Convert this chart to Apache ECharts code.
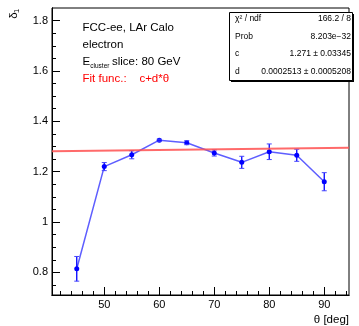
<!DOCTYPE html>
<html><head><meta charset="utf-8">
<script src="https://cdn.jsdelivr.net/npm/echarts@6/dist/echarts.min.js"></script>
<style>html,body{margin:0;padding:0;background:#fff}#c{width:359px;height:326px}</style>
</head><body><div id="c"></div>
<script>
// ---- data ----
const thetaVals = [45, 50, 55, 60, 65, 70, 75, 80, 85, 90];
const deltaVals = [0.814, 1.220, 1.267, 1.325, 1.315, 1.274, 1.237, 1.279, 1.265, 1.160];
const deltaErrs = [0.049, 0.016, 0.016, 0.004, 0.008, 0.012, 0.024, 0.031, 0.024, 0.036];
const xMajorTicks = [50, 60, 70, 80, 90];
const xMinorTicks = [42, 44, 46, 48, 52, 54, 56, 58, 62, 64, 66, 68, 72, 74, 76, 78, 82, 84, 86, 88, 92, 94];
const yMajorTicks = [0.8, 1, 1.2, 1.4, 1.6, 1.8];
const yMinorTicks = [0.75, 0.85, 0.9, 0.95, 1.05, 1.1, 1.15, 1.25, 1.3, 1.35, 1.45, 1.5, 1.55, 1.65, 1.7, 1.75];
const fitX = [40.5, 94.5];
const fitY = [1.281, 1.295];
const statsLabels = ['χ² / ndf', 'Prob', 'c', 'd'];
const statsValues = ['166.2 / 8', '8.203e\u221232', '1.271 ± 0.03345', '0.0002513 ± 0.0005208'];
const infoLines = ['FCC-ee, LAr Calo', 'electron'];
const fitText = 'Fit func.:    c+d*θ';

const X_MIN = 40.5, X_MAX = 94.5, Y_MIN = 0.71, Y_MAX = 1.85;
const FONT = 'Liberation Sans, Arial, sans-serif';

const chart = echarts.init(document.getElementById('c'), null, {renderer: 'canvas'});

const pointData = thetaVals.map((t, i) => [t, deltaVals[i]]);
const errData = thetaVals.map((t, i) => [t, deltaVals[i], deltaErrs[i]]);
const fitData = fitX.map((x, i) => [x, fitY[i]]);

function axisCommon(extra) {
  return Object.assign({
    type: 'value',
    splitLine: {show: false},
    axisLine: {show: true, lineStyle: {color: '#000', width: 1}},
  }, extra);
}

const graphics = [];
// info text
infoLines.forEach((t, i) => {
  graphics.push({type: 'text', left: 82.5, top: 22 + i * 16.7,
    style: {text: t, font: '11.5px ' + FONT, fill: '#000'}});
});
graphics.push({type: 'text', left: 82.5, top: 55.4, style: {text: 'E', font: '11.5px ' + FONT, fill: '#000'}});
graphics.push({type: 'text', left: 90.3, top: 62.3, style: {text: 'cluster', font: '6.5px ' + FONT, fill: '#000'}});
graphics.push({type: 'text', left: 112, top: 55.4, style: {text: 'slice: 80 GeV', font: '11.5px ' + FONT, fill: '#000'}});
graphics.push({type: 'text', left: 82.5, top: 72.5, style: {text: fitText, font: '11.5px ' + FONT, fill: '#ff0000'}});

// stats box
graphics.push({type: 'rect', shape: {x: 231, y: 14, width: 123, height: 68}, style: {fill: '#000'}, z: 10});
graphics.push({type: 'rect', shape: {x: 229.5, y: 12.5, width: 123, height: 68}, style: {fill: '#fff', stroke: '#000', lineWidth: 1}, z: 11});
statsLabels.forEach((t, i) => {
  const yc = 18.5 + i * 17.7;
  graphics.push({type: 'text', x: 235, y: yc, z: 12,
    style: {text: t, font: '8.5px ' + FONT, fill: '#000', textVerticalAlign: 'middle', textAlign: 'left'}});
  graphics.push({type: 'text', x: 351, y: yc, z: 12,
    style: {text: statsValues[i], font: '8.5px ' + FONT, fill: '#000', textVerticalAlign: 'middle', textAlign: 'right'}});
});

// axis titles
graphics.push({type: 'text', x: 349, y: 320, style: {text: 'θ [deg]', font: '11.5px ' + FONT, fill: '#000', textAlign: 'right', textVerticalAlign: 'middle'}});
graphics.push({type: 'text', x: 13.5, y: 15.5, rotation: Math.PI / 2,
  style: {text: 'δ', font: '11.5px ' + FONT, fill: '#000', textAlign: 'center', textVerticalAlign: 'middle'}});
graphics.push({type: 'text', x: 17.3, y: 10.8, rotation: Math.PI / 2,
  style: {text: '1', font: '7.5px ' + FONT, fill: '#000', textAlign: 'center', textVerticalAlign: 'middle'}});

const option = {
  animation: false,
  backgroundColor: '#fff',
  grid: {left: 52, right: 10, top: 8, bottom: 31, show: true, borderColor: '#000', borderWidth: 1,
    containLabel: false, outerBoundsMode: 'none'},
  xAxis: [
    axisCommon({min: X_MIN, max: X_MAX, position: 'bottom',
      axisTick: {show: true, inside: true, length: 8, customValues: xMajorTicks, lineStyle: {color: '#000'}},
      axisLabel: {show: true, customValues: xMajorTicks, margin: 4, color: '#000', fontSize: 11, fontFamily: FONT}}),
    axisCommon({min: X_MIN, max: X_MAX, position: 'bottom',
      axisTick: {show: true, inside: true, length: 4, customValues: xMinorTicks, lineStyle: {color: '#000'}},
      axisLabel: {show: false}})
  ],
  yAxis: [
    axisCommon({min: Y_MIN, max: Y_MAX, position: 'left',
      axisTick: {show: true, inside: true, length: 8, customValues: yMajorTicks, lineStyle: {color: '#000'}},
      axisLabel: {show: true, customValues: yMajorTicks, margin: 4, color: '#000', fontSize: 11, fontFamily: FONT}}),
    axisCommon({min: Y_MIN, max: Y_MAX, position: 'left',
      axisTick: {show: true, inside: true, length: 4, customValues: yMinorTicks, lineStyle: {color: '#000'}},
      axisLabel: {show: false}})
  ],
  series: [
    {type: 'line', xAxisIndex: 0, yAxisIndex: 0, data: pointData, symbol: 'circle', symbolSize: 5,
      lineStyle: {color: 'rgba(40,40,255,0.75)', width: 1.5},
      itemStyle: {color: '#0000ff'}, z: 3},
    {type: 'custom', xAxisIndex: 0, yAxisIndex: 0, data: errData, encode: {x: 0, y: 1}, z: 4,
      renderItem: function (params, api) {
        const x = api.value(0), y = api.value(1), e = api.value(2);
        const top = api.coord([x, y + e]);
        const bot = api.coord([x, y - e]);
        const w = 2.5;
        return {type: 'group', children: [
          {type: 'line', shape: {x1: top[0], y1: top[1], x2: bot[0], y2: bot[1]}, style: {stroke: '#0000ff', lineWidth: 1.3}},
          {type: 'line', shape: {x1: top[0] - w, y1: top[1], x2: top[0] + w, y2: top[1]}, style: {stroke: '#4444ff', lineWidth: 1}},
          {type: 'line', shape: {x1: bot[0] - w, y1: bot[1], x2: bot[0] + w, y2: bot[1]}, style: {stroke: '#4444ff', lineWidth: 1}}
        ]};
      }},
    {type: 'line', xAxisIndex: 0, yAxisIndex: 0, data: fitData, symbol: 'none',
      lineStyle: {color: 'rgba(255,80,80,0.85)', width: 2}, z: 5}
  ],
  graphic: graphics
};
chart.setOption(option);
</script>
</body></html>
